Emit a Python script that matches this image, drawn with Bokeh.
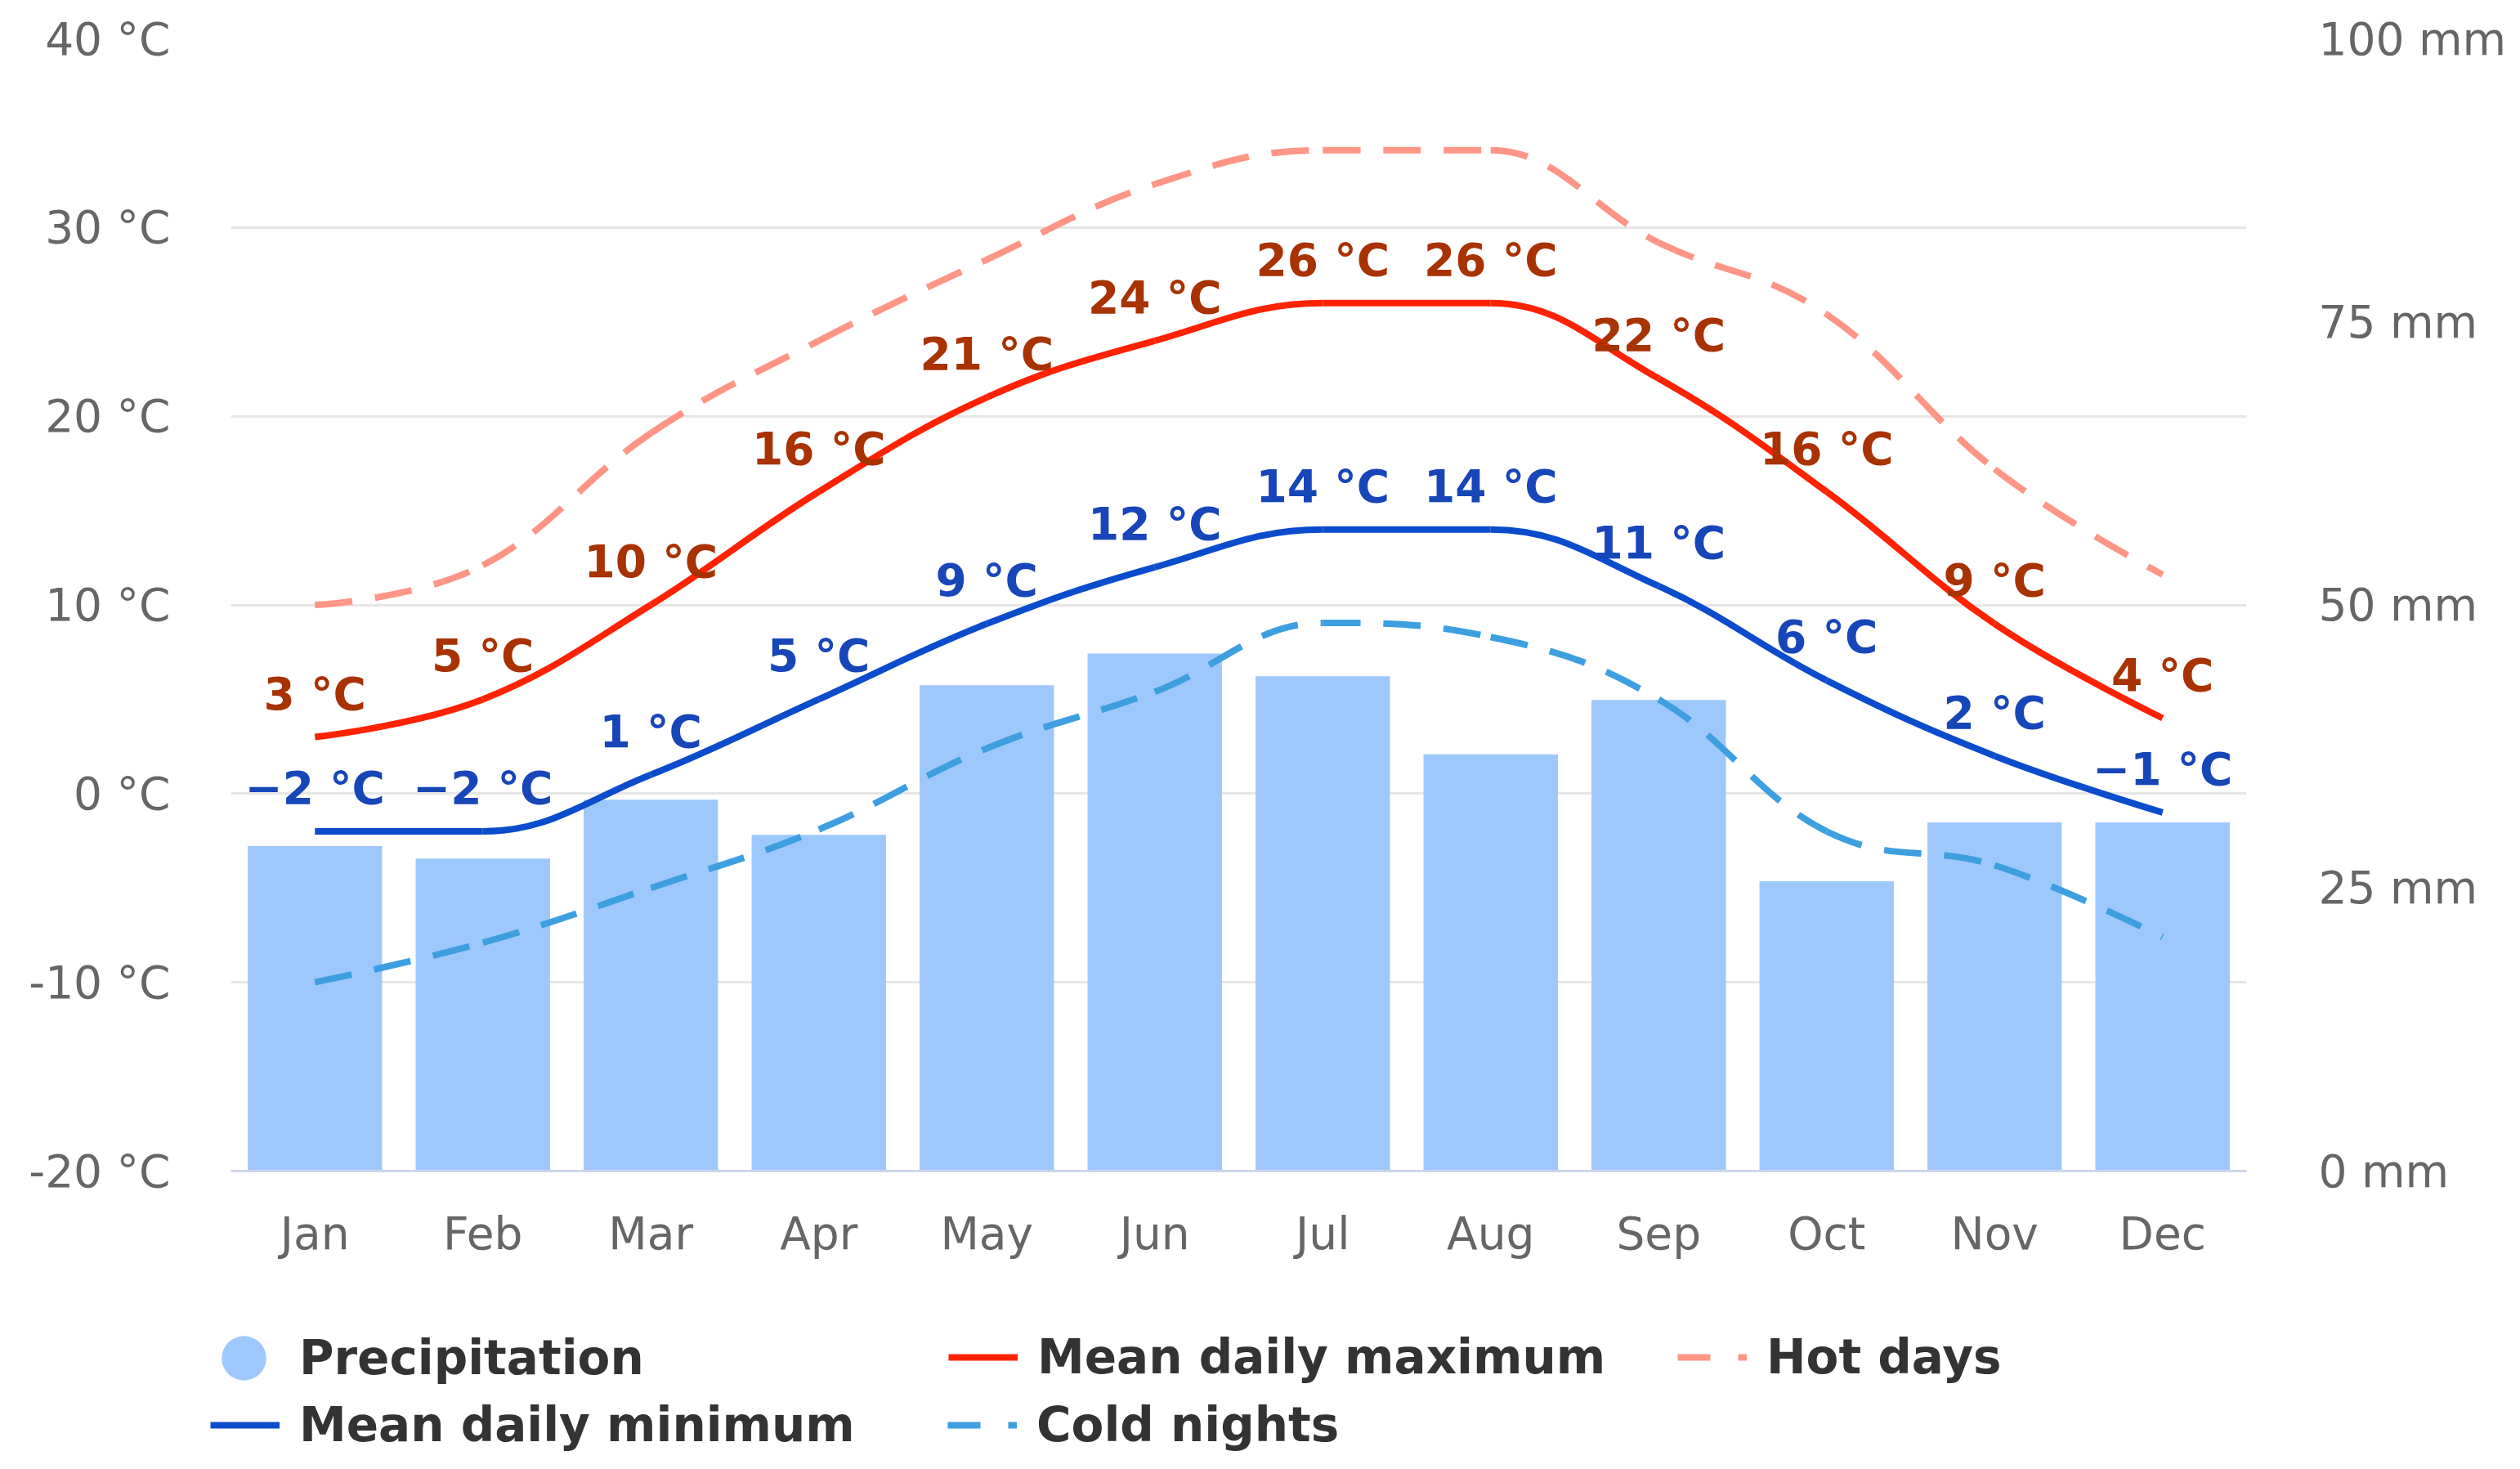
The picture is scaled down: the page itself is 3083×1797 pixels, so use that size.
import math
from bokeh.plotting import figure
from bokeh.models import (Range1d, LinearAxis, FixedTicker, PrintfTickFormatter,
                          Legend, LegendItem, ColumnDataSource)
from bokeh.core.properties import value
from bokeh.embed import file_html
from bokeh.resources import INLINE

months = ["Jan", "Feb", "Mar", "Apr", "May", "Jun", "Jul", "Aug", "Sep", "Oct", "Nov", "Dec"]
precipitation = [28.7, 27.6, 32.8, 29.7, 42.9, 45.7, 43.7, 36.8, 41.6, 25.6, 30.8, 30.8]
mean_max = [3, 5, 10, 16, 21, 24, 26, 26, 22, 16, 9, 4]
mean_min = [-2, -2, 1, 5, 9, 12, 14, 14, 11, 6, 2, -1]
hot_days = [10, 12.1, 19.1, 24.0, 28.3, 32.3, 34.1, 34.1, 29.2, 25.4, 17.2, 11.6]
cold_nights = [-10, -7.9, -5.0, -1.9, 2.4, 5.4, 9.05, 8.3, 5.0, -2.0, -3.8, -7.6]
temp_ticks = [-20, -10, 0, 10, 20, 30, 40]
mm_ticks = [0, 25, 50, 75, 100]

xs = list(range(1, len(months) + 1))

FONT = "DejaVu Sans"
BAR = "#9ec8fc"
RED = "#ff2200"
BLUE = "#0b4ccc"
HOT = "#ff9585"
COLD = "#3d9fe0"
RED_LBL = "#a83200"
BLUE_LBL = "#1646b8"

W_LEFT, W_FRAME, W_RIGHT = 282, 2466, 300
TOTAL_W = W_LEFT + W_FRAME + W_RIGHT


def spline_segments(x, y, smoothing=1.5):
    """Cubic Bezier control points (Highcharts-style spline) for the series."""
    n = len(x)
    left = [None] * n
    right = [None] * n
    for i in range(1, n - 1):
        px, py = x[i], y[i]
        lx, ly = x[i - 1], y[i - 1]
        nx, ny = x[i + 1], y[i + 1]
        d = smoothing + 1
        lcx = (smoothing * px + lx) / d
        lcy = (smoothing * py + ly) / d
        rcx = (smoothing * px + nx) / d
        rcy = (smoothing * py + ny) / d
        corr = 0
        if rcx != lcx:
            corr = (rcy - lcy) * (rcx - px) / (rcx - lcx) + py - rcy
        lcy += corr
        rcy += corr
        if lcy > ly and lcy > py:
            lcy = max(ly, py); rcy = 2 * py - lcy
        elif lcy < ly and lcy < py:
            lcy = min(ly, py); rcy = 2 * py - lcy
        if rcy > ny and rcy > py:
            rcy = max(ny, py); lcy = 2 * py - rcy
        elif rcy < ny and rcy < py:
            rcy = min(ny, py); lcy = 2 * py - rcy
        left[i] = (lcx, lcy)
        right[i] = (rcx, rcy)
    d = dict(x0=[], y0=[], x1=[], y1=[], cx0=[], cy0=[], cx1=[], cy1=[])
    for i in range(n - 1):
        c0 = right[i] if right[i] else (x[i], y[i])
        c1 = left[i + 1] if left[i + 1] else (x[i + 1], y[i + 1])
        d["x0"].append(x[i]); d["y0"].append(y[i])
        d["x1"].append(x[i + 1]); d["y1"].append(y[i + 1])
        d["cx0"].append(c0[0]); d["cy0"].append(c0[1])
        d["cx1"].append(c1[0]); d["cy1"].append(c1[1])
    return ColumnDataSource(d)


p = figure(frame_width=W_FRAME, frame_height=1385, min_border_left=W_LEFT, min_border_top=47,
           min_border_right=W_RIGHT, min_border_bottom=110,
           x_range=Range1d(0.5, len(months) + 0.5), y_range=Range1d(temp_ticks[0], temp_ticks[-1]),
           output_backend="svg", toolbar_location=None, background_fill_color="white",
           border_fill_color="white", outline_line_color=None)

p.extra_y_ranges = {"mm": Range1d(mm_ticks[0], mm_ticks[-1])}

# grid
p.xgrid.visible = False
p.ygrid.ticker = FixedTicker(ticks=temp_ticks)
p.ygrid.grid_line_color = "#e6e6e6"
p.ygrid.grid_line_width = 3

# x axis
p.xaxis.ticker = FixedTicker(ticks=xs)
p.xaxis.major_label_overrides = {x: m for x, m in zip(xs, months)}
p.xaxis.axis_line_color = "#ccd6eb"
p.xaxis.axis_line_width = 3
p.xaxis.major_tick_line_color = None
p.xaxis.minor_tick_line_color = None
p.xaxis.major_label_standoff = 38
p.xaxis.major_label_text_font = FONT
p.xaxis.major_label_text_font_size = "55px"
p.xaxis.major_label_text_color = "#666666"

# left axis
p.yaxis.ticker = FixedTicker(ticks=temp_ticks)
p.yaxis.formatter = PrintfTickFormatter(format="%d °C")
p.yaxis.axis_line_color = None
p.yaxis.major_tick_line_color = None
p.yaxis.minor_tick_line_color = None
p.yaxis.major_label_standoff = 68
p.yaxis.major_label_text_font = FONT
p.yaxis.major_label_text_font_size = "55px"
p.yaxis.major_label_text_color = "#666666"

# right axis
ra = LinearAxis(y_range_name="mm", ticker=FixedTicker(ticks=mm_ticks),
                formatter=PrintfTickFormatter(format="%d mm"))
ra.axis_line_color = None
ra.major_tick_line_color = None
ra.minor_tick_line_color = None
ra.major_label_standoff = 82
ra.major_label_text_font = FONT
ra.major_label_text_font_size = "55px"
ra.major_label_text_color = "#666666"
p.add_layout(ra, "right")

# bars
p.vbar(x=xs, top=precipitation, bottom=0, width=0.8, y_range_name="mm",
       fill_color=BAR, line_color=None)

# spline lines
LW = 8
DASH = "46 28"
for series, col, dash in ((cold_nights, COLD, DASH), (hot_days, HOT, DASH),
                          (mean_min, BLUE, "solid"), (mean_max, RED, "solid")):
    p.bezier(x0="x0", y0="y0", x1="x1", y1="y1", cx0="cx0", cy0="cy0", cx1="cx1", cy1="cy1",
             source=spline_segments(xs, series), line_color=col, line_width=LW, line_dash=dash)


def fmt(v):
    s = f"{v} °C"
    return s.replace("-", "\u2212")


p.text(x=xs, y=mean_max, text=[fmt(v) for v in mean_max], text_align="center",
       text_baseline="alphabetic", y_offset=-53, text_font=value(FONT),
       text_font_style="bold", text_font_size="55px", text_color=RED_LBL)
p.text(x=xs, y=mean_min, text=[fmt(v) for v in mean_min], text_align="center",
       text_baseline="alphabetic", y_offset=-53, text_font=value(FONT),
       text_font_style="bold", text_font_size="55px", text_color=BLUE_LBL)

# ---- separate legend figure, rendered as a second root below the chart ----
LEG_H = 240
q = figure(width=TOTAL_W, height=LEG_H, min_border=0, x_axis_type=None, y_axis_type=None,
           x_range=Range1d(0, 1), y_range=Range1d(0, 1),
           output_backend="svg", toolbar_location=None, outline_line_color=None,
           background_fill_color="white", border_fill_color="white")
q.grid.visible = False

OFF = [-100, -99]
r_prec = q.scatter(x=OFF, y=OFF, marker="circle", fill_color=BAR, line_color=None)
r_max = q.line(x=OFF, y=OFF, line_color=RED, line_width=8)
r_hot = q.line(x=OFF, y=OFF, line_color=HOT, line_width=8, line_dash="40 34")
r_min = q.line(x=OFF, y=OFF, line_color=BLUE, line_width=8)
r_cold = q.line(x=OFF, y=OFF, line_color=COLD, line_width=8, line_dash="40 34")


def mk_legend(items, loc, gw, gh, standoff, lw):
    return Legend(items=items, location=loc, orientation="horizontal",
                  glyph_width=gw, glyph_height=gh, label_standoff=standoff,
                  label_width=lw, label_height=60, spacing=0, padding=0, margin=0,
                  border_line_color=None, background_fill_alpha=0,
                  label_text_font=FONT, label_text_font_style="bold",
                  label_text_font_size="58px", label_text_color="#333333")


legA = mk_legend([LegendItem(label="Precipitation", renderers=[r_prec])], (230, 54), 136, 136, 0, 700)
legB = mk_legend([LegendItem(label="Mean daily maximum", renderers=[r_max]),
                  LegendItem(label="Hot days", renderers=[r_hot])], (1160, 89), 85, 60, 24, 783)
legC = mk_legend([LegendItem(label="Mean daily minimum", renderers=[r_min]),
                  LegendItem(label="Cold nights", renderers=[r_cold])], (257, 6), 85, 60, 24, 793)
for lg in (legA, legB, legC):
    q.add_layout(lg, "center")

open("out.html", "w").write(file_html([p, q], INLINE))
